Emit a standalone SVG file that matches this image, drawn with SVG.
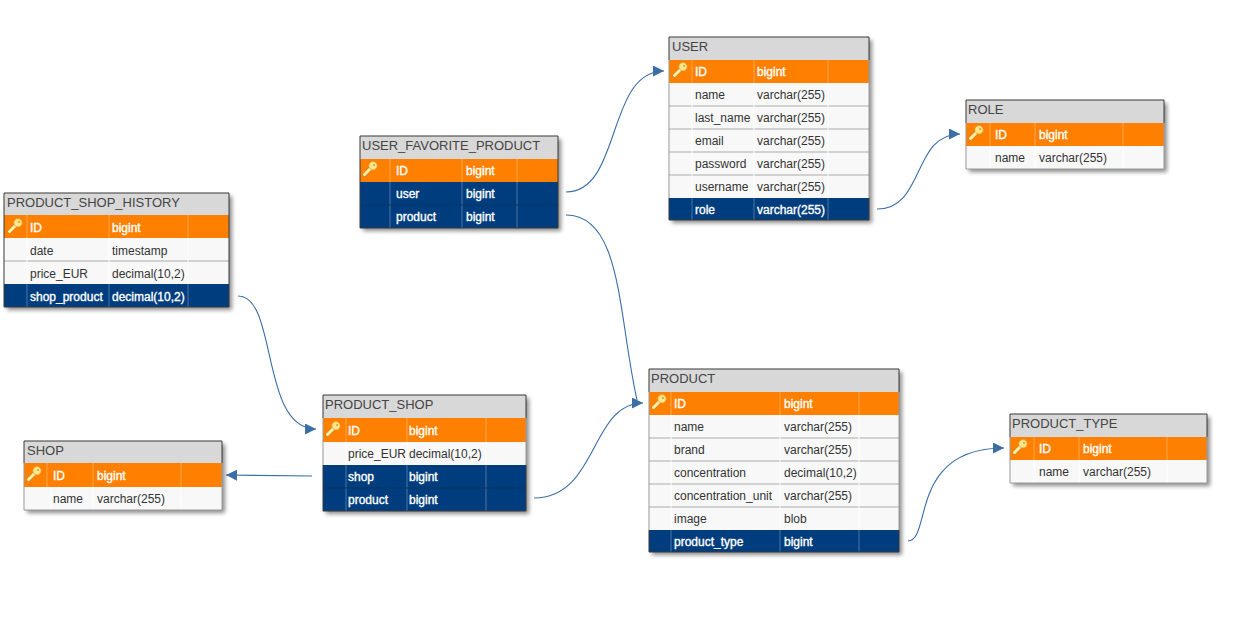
<svg xmlns="http://www.w3.org/2000/svg" xmlns:xlink="http://www.w3.org/1999/xlink" width="1239" height="618" viewBox="0 0 1239 618">
<style>
text{font-family:"Liberation Sans",Arial,sans-serif;font-size:12px;fill:#333}
.title{font-size:13px;fill:#444}
.w{fill:#fff;stroke:#fff;stroke-width:.35}
.hd{fill:#d8d8d8}.or{fill:#ff8000}.bl{fill:#003d7e}.rw{fill:#f8f8f8}
.sep{stroke:#c4c4c4;stroke-width:1.5}
.div{stroke:#fff;stroke-opacity:.3;stroke-width:1}
.frame{fill:none;stroke:#3a3a3a;stroke-width:1}
.frame2{fill:none;stroke:#9a9a9a;stroke-width:1}
.con{fill:none;stroke:#3a6ea5;stroke-width:1.1}
.shadow{fill:#000;opacity:.45;filter:url(#blur)}
</style>
<defs>
<filter id="blur" x="-10%" y="-10%" width="120%" height="120%"><feGaussianBlur stdDeviation="2"/></filter>
<marker id="arrow" markerUnits="userSpaceOnUse" markerWidth="12" markerHeight="12" refX="11" refY="5.5" orient="auto"><path d="M0 0L11 5.5L0 11Z" fill="#3a6ea5"/></marker>
<g id="key">
<path d="M2.5 13.5L10 6" stroke="#c98a20" stroke-width="4.4" stroke-linecap="round" fill="none"/>
<path d="M2.5 13.5L10 6" stroke="#ffeea8" stroke-width="3" stroke-linecap="round" fill="none"/>
<circle cx="11" cy="4.8" r="4.2" fill="#ffe68c" stroke="#d8a030" stroke-width=".8"/>
<circle cx="12" cy="4" r="1.1" fill="#e0a030"/>
</g>
</defs>
<g id="connectors">
<path class="con" marker-end="url(#arrow)" d="M566 192C622 192 606 71 664 71"/>
<path class="con" marker-end="url(#arrow)" d="M877 209C925 209 912 134 960 134"/>
<path class="con" d="M566 215C622 215 618 315 637 400"/>
<path class="con" marker-end="url(#arrow)" d="M534 498C598 498 590 403 643 403"/>
<path class="con" marker-end="url(#arrow)" d="M238 296C278 296 260 429 316 429"/>
<path class="con" marker-end="url(#arrow)" d="M312 476L226 475"/>
<path class="con" marker-end="url(#arrow)" d="M908 541C932 541 908 448 1004 448"/>
</g>
<g id="PRODUCT_SHOP_HISTORY">
<rect class="shadow" x="7" y="196" width="225" height="114"/>
<rect class="hd" x="4" y="193" width="225" height="22"/>
<rect class="or" x="4" y="215" width="225" height="23"/>
<rect class="rw" x="4" y="238" width="225" height="46"/>
<rect class="bl" x="4" y="284" width="225" height="23"/>
<path class="sep" d="M4 261H229"/>
<path class="div" d="M27 215V238M109 215V238M188 215V238M27 284V307M109 284V307M188 284V307"/>
<path d="M27 238V284M109 238V284M188 238V284" stroke="#fff"/>
<use xlink:href="#key" href="#key" x="7" y="218"/>
<text class="title" x="7" y="207">PRODUCT_SHOP_HISTORY</text>
<text class="w" x="30" y="232">ID</text><text class="w" x="112" y="232">bigint</text>
<text x="30" y="255">date</text><text x="112" y="255">timestamp</text>
<text x="30" y="278">price_EUR</text><text x="112" y="278">decimal(10,2)</text>
<text class="w" x="30" y="301">shop_product</text><text class="w" x="112" y="301">decimal(10,2)</text>
<path class="frame" d="M4 215V193H229V307H4V215"/>
</g>
<g id="SHOP">
<rect class="shadow" x="27" y="444" width="198" height="69"/>
<rect class="hd" x="24" y="441" width="198" height="22"/>
<rect class="or" x="24" y="463" width="198" height="24"/>
<rect class="rw" x="24" y="487" width="198" height="23"/>
<path class="div" d="M47 463V487M93 463V487M181 463V487"/>
<path d="M51 487V510M93 487V510M181 487V510" stroke="#fff"/>
<use xlink:href="#key" href="#key" x="26" y="466"/>
<text class="title" x="27" y="455">SHOP</text>
<text class="w" x="53" y="480">ID</text><text class="w" x="97" y="480">bigint</text>
<text x="53" y="503">name</text><text x="97" y="503">varchar(255)</text>
<path class="frame" d="M24 463V441H222V463"/>
<path class="frame2" d="M24 463V510H222V463"/>
</g>
<g id="PRODUCT_SHOP">
<rect class="shadow" x="326" y="398" width="203" height="116"/>
<rect class="hd" x="323" y="395" width="203" height="23"/>
<rect class="or" x="323" y="418" width="203" height="24"/>
<rect class="rw" x="323" y="442" width="203" height="23"/>
<rect class="bl" x="323" y="465" width="203" height="46"/>
<path class="div" d="M346 418V442M407 418V442M486 418V442M346 465V511M407 465V511M486 465V511"/>
<path d="M346 442V465M407 442V465M486 442V465" stroke="#fff"/>
<path d="M323 488H526" stroke="#0d3463"/>
<use xlink:href="#key" href="#key" x="325" y="421"/>
<text class="title" x="325" y="409">PRODUCT_SHOP</text>
<text class="w" x="348" y="435">ID</text><text class="w" x="409" y="435">bigint</text>
<text x="348" y="458">price_EUR</text><text x="409" y="458">decimal(10,2)</text>
<text class="w" x="348" y="481">shop</text><text class="w" x="409" y="481">bigint</text>
<text class="w" x="348" y="504">product</text><text class="w" x="409" y="504">bigint</text>
<path class="frame" d="M323 418V395H526V418M323 465V511H526V465"/>
<path class="frame2" d="M323 418V465M526 418V465"/>
</g>
<g id="USER_FAVORITE_PRODUCT">
<rect class="shadow" x="363" y="139" width="198" height="92"/>
<rect class="hd" x="360" y="136" width="198" height="23"/>
<rect class="or" x="360" y="159" width="198" height="23"/>
<rect class="bl" x="360" y="182" width="198" height="46"/>
<path class="div" d="M390 159V228M462 159V228M517 159V228"/>
<path d="M360 205H558" stroke="#0d3463"/>
<use xlink:href="#key" href="#key" x="362" y="161"/>
<text class="title" x="362" y="150">USER_FAVORITE_PRODUCT</text>
<text class="w" x="396" y="175">ID</text><text class="w" x="466" y="175">bigint</text>
<text class="w" x="396" y="198">user</text><text class="w" x="466" y="198">bigint</text>
<text class="w" x="396" y="221">product</text><text class="w" x="466" y="221">bigint</text>
<path class="frame" d="M360 136H558V228H360Z"/>
</g>
<g id="USER">
<rect class="shadow" x="672" y="40" width="200" height="183"/>
<rect class="hd" x="669" y="37" width="200" height="23"/>
<rect class="or" x="669" y="60" width="200" height="23"/>
<rect class="rw" x="669" y="83" width="200" height="115"/>
<rect class="bl" x="669" y="198" width="200" height="22"/>
<path class="sep" d="M669 106H869M669 129H869M669 152H869M669 175H869"/>
<path class="div" d="M692 60V83M754 60V83M828 60V83M692 198V220M754 198V220M828 198V220"/>
<path d="M692 83V198M754 83V198M828 83V198" stroke="#fff"/>
<use xlink:href="#key" href="#key" x="672" y="62"/>
<text class="title" x="672" y="51">USER</text>
<text class="w" x="695" y="76">ID</text><text class="w" x="757" y="76">bigint</text>
<text x="695" y="99">name</text><text x="757" y="99">varchar(255)</text>
<text x="695" y="122">last_name</text><text x="757" y="122">varchar(255)</text>
<text x="695" y="145">email</text><text x="757" y="145">varchar(255)</text>
<text x="695" y="168">password</text><text x="757" y="168">varchar(255)</text>
<text x="695" y="191">username</text><text x="757" y="191">varchar(255)</text>
<text class="w" x="695" y="214">role</text><text class="w" x="757" y="214">varchar(255)</text>
<path class="frame" d="M669 60V37H869V60M669 198V220H869V198"/>
<path class="frame2" d="M669 60V198M869 60V198"/>
</g>
<g id="ROLE">
<rect class="shadow" x="969" y="103" width="198" height="69"/>
<rect class="hd" x="966" y="100" width="198" height="23"/>
<rect class="or" x="966" y="123" width="198" height="23"/>
<rect class="rw" x="966" y="146" width="198" height="23"/>
<path class="div" d="M990 123V146M1035 123V146M1123 123V146"/>
<path d="M990 146V169M1035 146V169M1123 146V169" stroke="#fff"/>
<use xlink:href="#key" href="#key" x="968" y="125"/>
<text class="title" x="968" y="114">ROLE</text>
<text class="w" x="995" y="139">ID</text><text class="w" x="1039" y="139">bigint</text>
<text x="995" y="162">name</text><text x="1039" y="162">varchar(255)</text>
<path class="frame" d="M966 123V100H1164V123"/>
<path class="frame2" d="M966 123V169H1164V123"/>
</g>
<g id="PRODUCT">
<rect class="shadow" x="652" y="372" width="250" height="183"/>
<rect class="hd" x="649" y="369" width="250" height="23"/>
<rect class="or" x="649" y="392" width="250" height="23"/>
<rect class="rw" x="649" y="415" width="250" height="115"/>
<rect class="bl" x="649" y="530" width="250" height="22"/>
<path class="sep" d="M649 438H899M649 461H899M649 484H899M649 507H899"/>
<path class="div" d="M671 392V415M780 392V415M859 392V415M671 530V552M780 530V552M859 530V552"/>
<path d="M671 415V530M780 415V530M859 415V530" stroke="#fff"/>
<use xlink:href="#key" href="#key" x="651" y="394"/>
<text class="title" x="651" y="383">PRODUCT</text>
<text class="w" x="674" y="408">ID</text><text class="w" x="784" y="408">bigint</text>
<text x="674" y="431">name</text><text x="784" y="431">varchar(255)</text>
<text x="674" y="454">brand</text><text x="784" y="454">varchar(255)</text>
<text x="674" y="477">concentration</text><text x="784" y="477">decimal(10,2)</text>
<text x="674" y="500">concentration_unit</text><text x="784" y="500">varchar(255)</text>
<text x="674" y="523">image</text><text x="784" y="523">blob</text>
<text class="w" x="674" y="546">product_type</text><text class="w" x="784" y="546">bigint</text>
<path class="frame" d="M649 392V369H899V392M649 530V552H899V530"/>
<path class="frame2" d="M649 392V530M899 392V530"/>
</g>
<g id="PRODUCT_TYPE">
<rect class="shadow" x="1013" y="417" width="197" height="69"/>
<rect class="hd" x="1010" y="414" width="197" height="23"/>
<rect class="or" x="1010" y="437" width="197" height="23"/>
<rect class="rw" x="1010" y="460" width="197" height="23"/>
<path class="div" d="M1034 437V460M1079 437V460M1167 437V460"/>
<path d="M1034 460V483M1079 460V483M1167 460V483" stroke="#fff"/>
<use xlink:href="#key" href="#key" x="1012" y="439"/>
<text class="title" x="1012" y="428">PRODUCT_TYPE</text>
<text class="w" x="1039" y="453">ID</text><text class="w" x="1083" y="453">bigint</text>
<text x="1039" y="476">name</text><text x="1083" y="476">varchar(255)</text>
<path class="frame" d="M1010 437V414H1207V437"/>
<path class="frame2" d="M1010 437V483H1207V437"/>
</g>
</svg>
